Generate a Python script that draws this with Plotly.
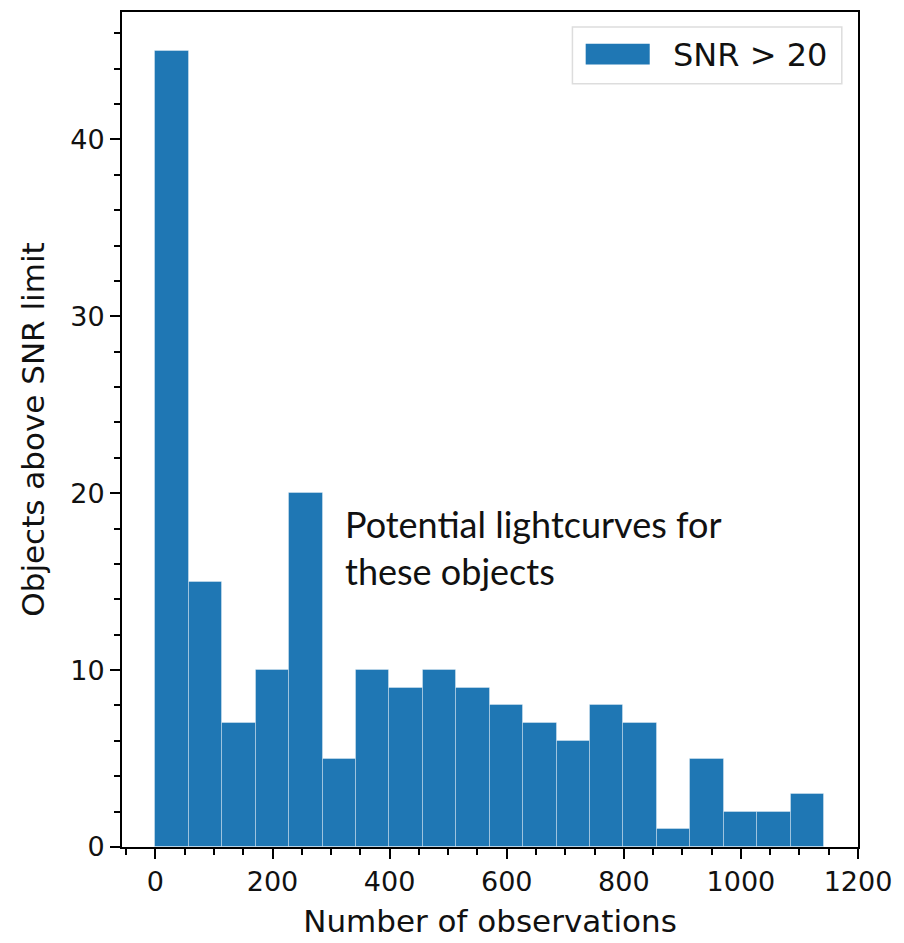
import numpy as np
import plotly.graph_objects as go

# Histogram data (20 equal bins from 0 to ~1142 observations)
bin_lo = 0.0
bin_hi = 1142.0
counts = [45, 15, 7, 10, 20, 5, 10, 9, 10, 9, 8, 7, 6, 8, 7, 1, 5, 2, 2, 3]
series_name = "SNR > 20"
x_title = "Number of observations"
y_title = "Objects above SNR limit"
note_text = "Potential lightcurves for<br>these objects"
x_ticks = [0, 200, 400, 600, 800, 1000, 1200]
y_ticks = [0, 10, 20, 30, 40]

edges = np.linspace(bin_lo, bin_hi, len(counts) + 1)
centers = (edges[:-1] + edges[1:]) / 2
widths = np.diff(edges)

BLUE = "#1f77b4"
FONT = "DejaVu Sans"

fig = go.Figure()
fig.add_trace(go.Bar(
    x=centers, y=counts, width=widths, name=series_name,
    marker=dict(color=BLUE, line=dict(color="rgba(255,255,255,0.35)", width=1)),
    showlegend=False,
))

axis_common = dict(
    showgrid=False, zeroline=False, showline=True, linecolor="black", linewidth=2,
    mirror=True, ticks="outside", ticklen=10, tickwidth=2, tickcolor="black",
    tickfont=dict(family=FONT, size=27, color="#111"),
)

fig.update_xaxes(
    range=[-57.1, 1200], tickvals=x_ticks,
    minor=dict(dtick=50, tick0=0, ticks="outside", ticklen=6, tickwidth=1.5, tickcolor="black"),
    title=dict(text=x_title, font=dict(family=FONT, size=31, color="#111"), standoff=14),
    **axis_common,
)
fig.update_yaxes(
    range=[0, 47.2], tickvals=y_ticks,
    minor=dict(dtick=2, tick0=0, ticks="outside", ticklen=6, tickwidth=1.5, tickcolor="black"),
    title=dict(text=y_title, font=dict(family=FONT, size=31, color="#111"), standoff=16),
    **axis_common,
)

# Legend (drawn to mimic matplotlib style)
fig.add_shape(type="rect", xref="paper", yref="paper",
              x0=0.612, x1=0.978, y0=0.914, y1=0.982,
              line=dict(color="#dddddd", width=1.5), fillcolor="rgba(255,255,255,0.85)")
fig.add_shape(type="rect", xref="paper", yref="paper",
              x0=0.630, x1=0.717, y0=0.937, y1=0.962,
              line=dict(width=0), fillcolor=BLUE)
fig.add_annotation(xref="paper", yref="paper", x=0.746, y=0.949,
                   xanchor="left", yanchor="middle", showarrow=False,
                   text=series_name, font=dict(family=FONT, size=32, color="#111"))

# Text note
fig.add_annotation(xref="paper", yref="paper", x=0.30, y=0.415,
                   xanchor="left", yanchor="top", showarrow=False, align="left",
                   text=note_text, font=dict(family="Lato", size=36, color="#111"))

fig.update_layout(
    width=904, height=943,
    margin=dict(l=122, r=46, t=10, b=95),
    paper_bgcolor="white", plot_bgcolor="white",
    bargap=0,
)

fig.write_html("out.html")
